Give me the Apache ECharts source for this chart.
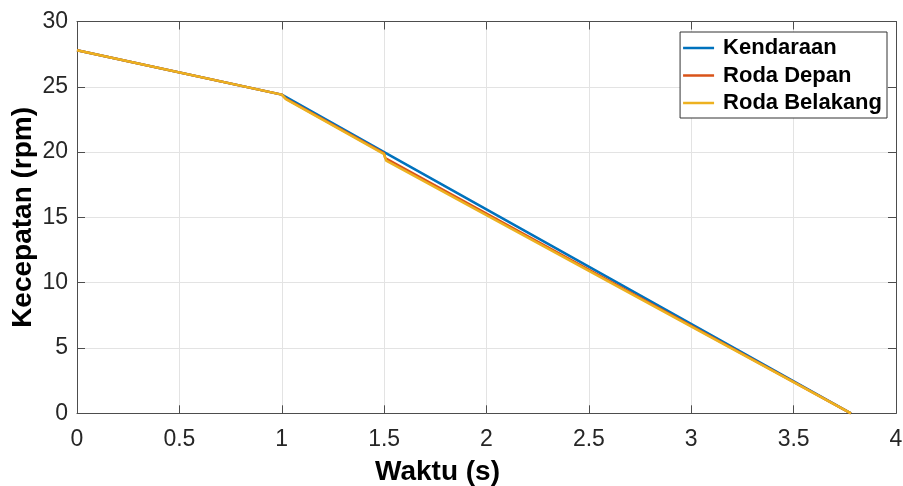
<!DOCTYPE html>
<html>
<head>
<meta charset="utf-8">
<script src="https://cdn.jsdelivr.net/npm/echarts@6/dist/echarts.min.js"></script>
<style>html,body{margin:0;padding:0;background:#fff;}#c{width:903px;height:486px;}</style>
</head>
<body>
<div id="c"></div>
<script>
var seriesNames = ['Kendaraan', 'Roda Depan', 'Roda Belakang'];
var kendaraan = [[0, 27.8], [1, 24.4], [1.5, 20.0], [3.78, 0]];
var rodaDepan = [[0, 27.8], [1, 24.4], [1.02, 24.1], [1.5, 19.9], [1.505, 19.55], [3.78, 0]];
var rodaBelakang = [[0, 27.8], [1, 24.4], [1.02, 24.05], [1.5, 19.85], [1.51, 19.35], [3.78, 0]];
var xTicks = [0, 0.5, 1, 1.5, 2, 2.5, 3, 3.5, 4];
var yTicks = [0, 5, 10, 15, 20, 25, 30];
var colors = ['#0072BD', '#D95319', '#EDB120'];

var FONT = 'Liberation Sans, Arial, Helvetica, sans-serif';
var axisCol = '#4d4d4d';
function baseAxis(extra) {
  var a = {
    type: 'value',
    axisLine: {show: true, onZero: false, lineStyle: {color: axisCol, width: 1}},
    axisTick: {show: true, inside: true, length: 8, lineStyle: {color: axisCol}},
    splitLine: {show: false},
    axisLabel: {show: false}
  };
  for (var k in extra) a[k] = extra[k];
  return a;
}
var chart = echarts.init(document.getElementById('c'));
var option = {
  animation: false,
  color: colors,
  grid: {left: 77, top: 21.5, right: 7, bottom: 72.7, containLabel: false, outerBoundsMode: 'none'},
  legend: {
    data: seriesNames,
    orient: 'vertical',
    right: 16, top: 32,
    icon: 'rect', itemWidth: 31, itemHeight: 2.5, itemGap: 5.5,
    backgroundColor: '#fff', borderColor: '#333', borderWidth: 1,
    padding: [5, 5, 4, 3],
    selectedMode: false,
    textStyle: {fontFamily: FONT, fontSize: 22, fontWeight: 'bold', color: '#000', padding: [0, 0, 0, 4]}
  },
  xAxis: [
    baseAxis({
      position: 'bottom', min: 0, max: 4, interval: 0.5,
      name: 'Waktu (s)', nameLocation: 'middle', nameGap: 45, nameMoveOverlap: false,
      nameTextStyle: {fontFamily: FONT, fontSize: 28, fontWeight: 'bold', color: '#000', padding: [0, 98, 0, 0]},
      axisLabel: {show: true, margin: 15, fontFamily: FONT, fontSize: 23, color: '#262626',
        formatter: function (v) { return xTicks.indexOf(v) >= 0 ? String(v) : ''; }},
      splitLine: {show: true, lineStyle: {color: '#e3e3e3', width: 1}}
    }),
    baseAxis({position: 'top', min: 0, max: 4, interval: 0.5})
  ],
  yAxis: [
    baseAxis({
      position: 'left', min: 0, max: 30, interval: 5,
      name: 'Kecepatan (rpm)', nameLocation: 'middle', nameGap: 40, nameMoveOverlap: false,
      nameTextStyle: {fontFamily: FONT, fontSize: 28, fontWeight: 'bold', color: '#000'},
      axisLabel: {show: true, margin: 9, fontFamily: FONT, fontSize: 23, color: '#262626',
        formatter: function (v) { return yTicks.indexOf(v) >= 0 ? String(v) : ''; }},
      splitLine: {show: true, lineStyle: {color: '#e3e3e3', width: 1}}
    }),
    baseAxis({position: 'right', min: 0, max: 30, interval: 5})
  ],
  series: [
    {name: seriesNames[0], type: 'line', data: kendaraan, showSymbol: false, lineStyle: {width: 2.5, color: colors[0]}, z: 2},
    {name: seriesNames[1], type: 'line', data: rodaDepan, showSymbol: false, lineStyle: {width: 2.5, color: colors[1]}, z: 3},
    {name: seriesNames[2], type: 'line', data: rodaBelakang, showSymbol: false, lineStyle: {width: 2.5, color: colors[2]}, z: 4}
  ]
};
chart.setOption(option);
</script>
</body>
</html>
